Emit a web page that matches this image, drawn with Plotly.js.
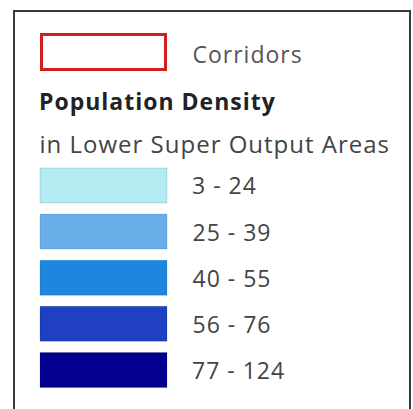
<!DOCTYPE html>
<html>
<head>
<meta charset="utf-8">
<script src="https://cdn.plot.ly/plotly-3.0.1.min.js"></script>
<style>
html,body{margin:0;padding:0;background:#fff;}
#chart{width:413px;height:409px;}
#chart .annotation-text{letter-spacing:1px;}
</style>
</head>
<body>
<div id="chart"></div>
<script>
// ---- data ----
const corridorLabel = "Corridors";
const densityTitle = "Population Density";
const densitySubtitle = "in Lower Super Output Areas";
const classLabels = ["3 - 24", "25 - 39", "40 - 55", "56 - 76", "77 - 124"];
const classColors = ["#b2ebf2", "#68afea", "#1f86e0", "#1f40c0", "#03008f"];

// ---- layout helpers (pixel -> paper) ----
const W = 413, H = 409;
const py = p => 1 - p / H;
const FONT = "'Open Sans', Lato, sans-serif";
const LS = 1; // letter spacing (px), centred text shifts by half the added width
const fixX = (x, s) => x + s.length * LS / 2;

const swatchLeft = 40, swatchWidth = 127;

const trace = {
  type: "bar",
  orientation: "h",
  y: classLabels,
  x: classLabels.map(() => swatchWidth),
  base: swatchLeft,
  width: 0.76,
  marker: {color: classColors, line: {color: "rgba(0,0,0,0.12)", width: 1}},
  hoverinfo: "skip",
  showlegend: false
};

const annotations = classLabels.map((lab, i) => ({
  xref: "x", yref: "y", x: fixX(190, lab), y: i, text: lab,
  xanchor: "left", yanchor: "middle", showarrow: false,
  font: {family: FONT, size: 23, color: "#444"}
}));
annotations.push(
  {xref: "x", yref: "paper", x: fixX(190, corridorLabel), y: py(54), text: corridorLabel, xanchor: "left", yanchor: "middle",
   showarrow: false, font: {family: FONT, size: 23, color: "#555"}},
  {xref: "x", yref: "paper", x: fixX(37, densityTitle), y: py(101), text: "<b>" + densityTitle + "</b>", xanchor: "left", yanchor: "middle",
   showarrow: false, font: {family: FONT, size: 23, color: "#222"}},
  {xref: "x", yref: "paper", x: fixX(37, densitySubtitle), y: py(143), text: densitySubtitle, xanchor: "left", yanchor: "middle",
   showarrow: false, font: {family: FONT, size: 24, color: "#444"}}
);

const shapes = [
  {type: "rect", xref: "x", yref: "paper", x0: 14, x1: 410, y0: -0.05, y1: py(11),
   line: {color: "#3a3a3a", width: 2}, fillcolor: "rgba(0,0,0,0)"},
  {type: "rect", xref: "x", yref: "paper", x0: 41.5, x1: 165.5, y0: py(69.5), y1: py(34.5),
   line: {color: "#d0201e", width: 3}, fillcolor: "#ffffff"}
];

const layout = {
  width: W, height: H,
  margin: {l: 0, r: 0, t: 0, b: 0},
  paper_bgcolor: "#fff", plot_bgcolor: "#fff",
  xaxis: {range: [0, W], visible: false, fixedrange: true},
  yaxis: {type: "category", categoryarray: classLabels, range: [4.5, -0.5],
          domain: [py(393), py(162.4)], visible: false, fixedrange: true},
  bargap: 0.24,
  shapes: shapes,
  annotations: annotations,
  showlegend: false
};

Plotly.newPlot("chart", [trace], layout, {displayModeBar: false, staticPlot: true});
</script>
</body>
</html>
